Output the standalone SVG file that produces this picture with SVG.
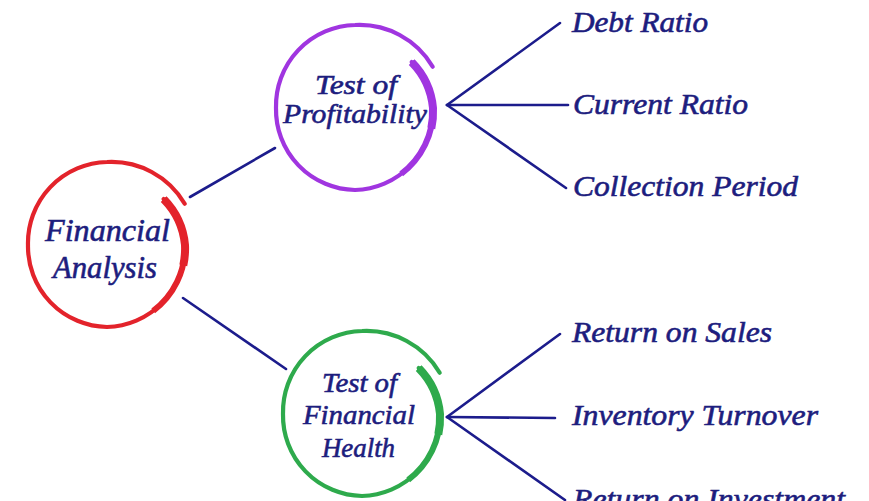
<svg xmlns="http://www.w3.org/2000/svg" width="869" height="501" viewBox="0 0 869 501">
  <style>
    .lbl { font-family: "Liberation Serif", "Times New Roman", serif; font-style: italic; fill: #1d1d7e; stroke: #1d1d7e; stroke-width: 0.6; }
    .node { font-size: 28px; }
    .big { font-size: 32px; }
    .leaf { font-size: 30px; }
    .conn { stroke: #1c1c8c; stroke-width: 2.6; fill: none; stroke-linecap: round; }
    .ring { fill: none; stroke-width: 4.2; stroke-linecap: round; }
    .thick1 { fill: none; stroke-width: 8; stroke-linecap: butt; }
    .thick2 { fill: none; stroke-width: 6; stroke-linecap: butt; }
  </style>
  <defs>
    <path id="spiral" d="M56.7,-45.9 A75.5,75.5 0 0 1 78,0 A80,80 0 0 1 0,82 A80.5,80.5 0 0 1 -79,0 A81,81 0 0 1 0,-83 A85,85 0 0 1 77.7,-41.3"/>
    <path id="tail1" d="M56.7,-45.9 A75.5,75.5 0 0 1 78,0 A79,79 0 0 1 76.3,20.4"/>
    <path id="tail2" d="M56.7,-45.9 A75.5,75.5 0 0 1 78,0 A80,80 0 0 1 46.2,65.9"/>
  </defs>
  <rect width="869" height="501" fill="#ffffff"/>

  <g id="connectors">
    <line class="conn" x1="190" y1="197" x2="275" y2="148"/>
    <line class="conn" x1="183" y1="298" x2="286" y2="369"/>
    <line class="conn" x1="447" y1="105" x2="560" y2="23"/>
    <line class="conn" x1="447" y1="105" x2="568" y2="105"/>
    <line class="conn" x1="447" y1="105" x2="566" y2="188"/>
    <line class="conn" x1="447" y1="417" x2="560" y2="334"/>
    <line class="conn" x1="447" y1="417" x2="555" y2="418"/>
    <line class="conn" x1="447" y1="417" x2="565" y2="500"/>
  </g>

  <g id="financial-analysis">
    <g transform="translate(107,245)" stroke="#e3232b">
      <use href="#spiral" class="ring"/>
      <use href="#tail2" class="thick2"/>
      <use href="#tail1" class="thick1"/>
    </g>
    <text class="lbl big" x="45" y="241" textLength="125" lengthAdjust="spacingAndGlyphs">Financial</text>
    <text class="lbl big" x="53" y="278" textLength="104" lengthAdjust="spacingAndGlyphs">Analysis</text>
  </g>

  <g id="test-of-profitability">
    <g transform="translate(355,108)" stroke="#a035e0">
      <use href="#spiral" class="ring"/>
      <use href="#tail2" class="thick2"/>
      <use href="#tail1" class="thick1"/>
    </g>
    <text class="lbl node" x="315" y="94" textLength="82" lengthAdjust="spacingAndGlyphs">Test of</text>
    <text class="lbl node" x="283" y="123" textLength="144" lengthAdjust="spacingAndGlyphs">Profitability</text>
  </g>

  <g id="test-of-financial-health">
    <g transform="translate(362,414)" stroke="#2eaa4c">
      <use href="#spiral" class="ring"/>
      <use href="#tail2" class="thick2"/>
      <use href="#tail1" class="thick1"/>
    </g>
    <text class="lbl node" x="322" y="392" textLength="75" lengthAdjust="spacingAndGlyphs">Test of</text>
    <text class="lbl node" x="303" y="424" textLength="112" lengthAdjust="spacingAndGlyphs">Financial</text>
    <text class="lbl node" x="322" y="457" textLength="73" lengthAdjust="spacingAndGlyphs">Health</text>
  </g>

  <g id="debt-ratio"><text class="lbl leaf" x="572" y="32" textLength="136" lengthAdjust="spacingAndGlyphs">Debt Ratio</text></g>
  <g id="current-ratio"><text class="lbl leaf" x="573" y="114" textLength="175" lengthAdjust="spacingAndGlyphs">Current Ratio</text></g>
  <g id="collection-period"><text class="lbl leaf" x="573" y="196" textLength="225" lengthAdjust="spacingAndGlyphs">Collection Period</text></g>
  <g id="return-on-sales"><text class="lbl leaf" x="572" y="342" textLength="200" lengthAdjust="spacingAndGlyphs">Return on Sales</text></g>
  <g id="inventory-turnover"><text class="lbl leaf" x="572" y="425" textLength="246" lengthAdjust="spacingAndGlyphs">Inventory Turnover</text></g>
  <g id="return-on-investment"><text class="lbl leaf" x="573" y="509" textLength="272" lengthAdjust="spacingAndGlyphs">Return on Investment</text></g>
</svg>
